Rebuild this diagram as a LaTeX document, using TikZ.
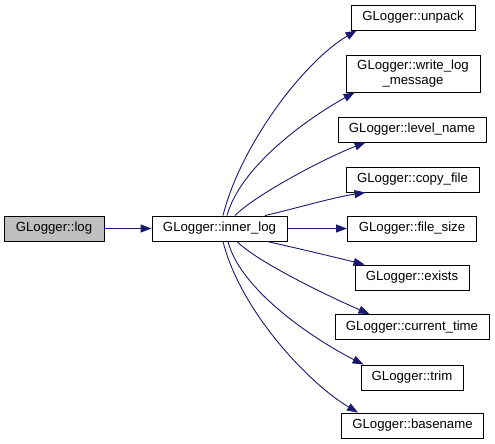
\documentclass[tikz,border=0pt]{standalone}
\usepackage{fontspec}
\setmainfont{Liberation Sans}
\usetikzlibrary{arrows.meta}
\definecolor{edgeblue}{HTML}{191970}
\definecolor{rootgray}{HTML}{BFBFBF}
\begin{document}
\begin{tikzpicture}[x=1pt,y=-1pt,
  box/.style={draw=black, line width=0.9pt, fill=white, inner xsep=0pt, inner ysep=0pt,
    minimum height=25pt, font=\fontsize{13.2}{14.5}\selectfont, align=center},
  call/.style={draw=edgeblue, line width=0.9pt, -{Triangle[length=11pt,width=8pt]}, edgeblue}]
\useasboundingbox (0,0) rectangle (495,444);
% nodes
\node[box, fill=rootgray, minimum width=100pt] (log) at (54,228.5) {GLogger::log};
\node[box, minimum width=135pt] (inner) at (219.5,228.5) {GLogger::inner\_log};
\node[box, minimum width=124pt] (unpack) at (413,17.5) {GLogger::unpack};
\node[box, minimum width=134pt, minimum height=37pt] (write) at (413,73.5) {GLogger::write\_log\\\_message};
\node[box, minimum width=148pt] (level) at (412,129.5) {GLogger::level\_name};
\node[box, minimum width=133pt] (copy) at (412.5,179.5) {GLogger::copy\_file};
\node[box, minimum width=129pt] (fsize) at (412,228.5) {GLogger::file\_size};
\node[box, minimum width=114pt] (exists) at (412,277.5) {GLogger::exists};
\node[box, minimum width=154pt] (ctime) at (412,327) {GLogger::current\_time};
\node[box, minimum width=102pt] (trim) at (412,377.5) {GLogger::trim};
\node[box, minimum width=142pt] (base) at (412.5,425.5) {GLogger::basename};
% edges
\draw[call] (log.east) -- (inner.west);
\draw[call] (inner.east) -- (fsize.west);
\draw[call] ([xshift=3.5pt]inner.north) .. controls (240,147) and (302,63) .. ([xshift=6pt]unpack.south west);
\draw[call] ([xshift=7.5pt]inner.north) .. controls (241,165) and (310,117) .. ([xshift=9pt]write.south west);
\draw[call] ([xshift=15.5pt]inner.north) .. controls (255,195) and (325,158) .. ([xshift=28pt]level.south west);
\draw[call] ([xshift=45.5pt]inner.north) .. controls (290,210) and (330,198) .. ([xshift=20pt]copy.south west);
\draw[call] ([xshift=47.5pt]inner.south) .. controls (292,247) and (330,256) .. ([xshift=10pt]exists.north west);
\draw[call] ([xshift=17.5pt]inner.south) .. controls (257,262) and (330,297) .. ([xshift=35pt]ctime.north west);
\draw[call] ([xshift=8.5pt]inner.south) .. controls (240,290) and (315,340) .. ([xshift=3pt]trim.north west);
\draw[call] ([xshift=3.5pt]inner.south) .. controls (240,310) and (308,383) .. ([xshift=17pt]base.north west);
\end{tikzpicture}
\end{document}
